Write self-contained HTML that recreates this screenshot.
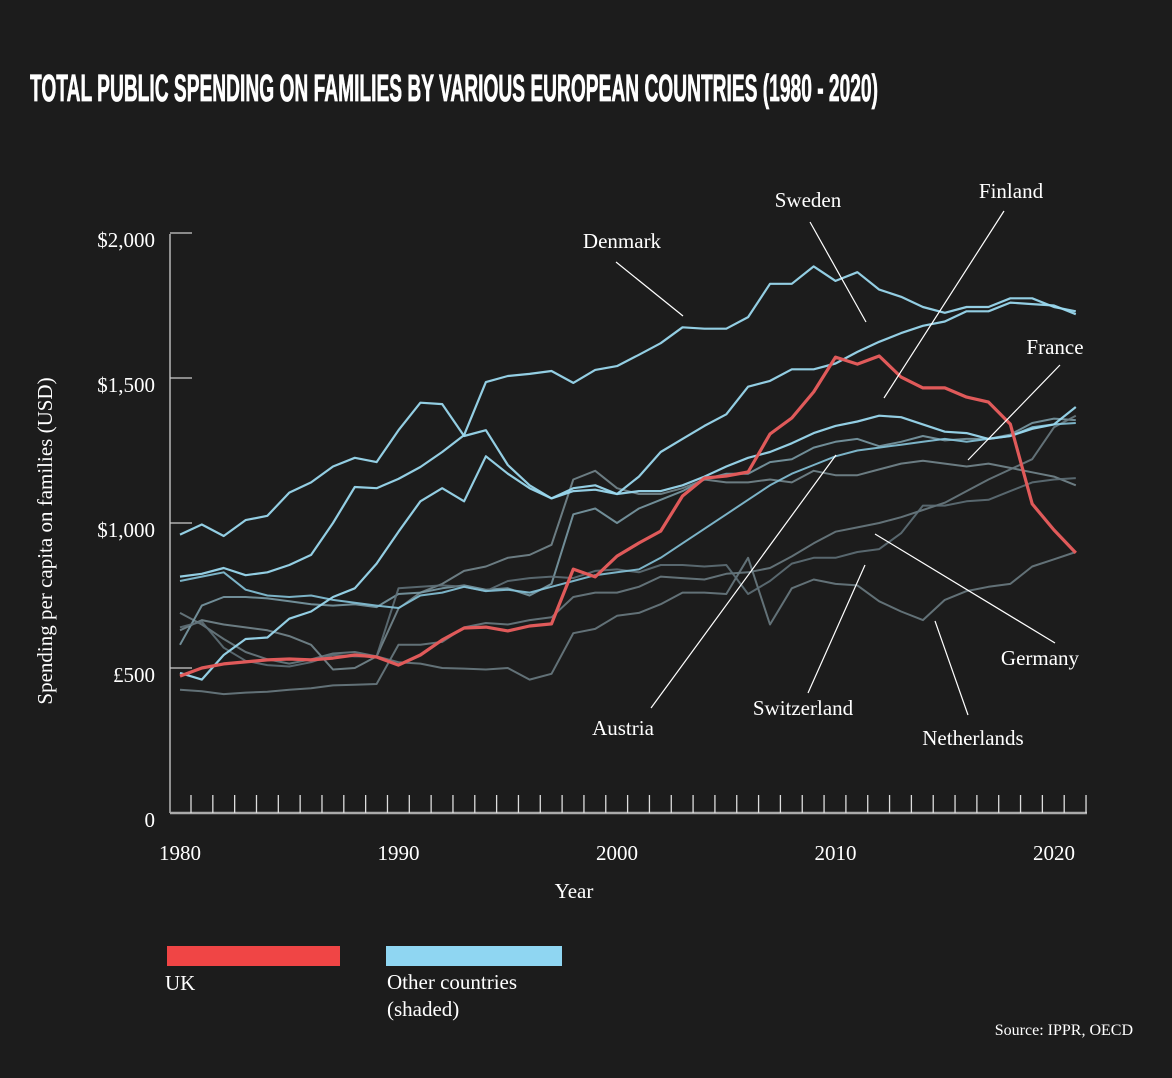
<!DOCTYPE html>
<html><head><meta charset="utf-8">
<style>
html,body{margin:0;padding:0;background:#1c1c1c;}
svg{display:block;}
.lbl{font-family:"Liberation Serif",serif;fill:#fff;font-size:21px;}
.ann{font-family:"Liberation Serif",serif;fill:#fff;font-size:21px;}
</style></head>
<body>
<svg id="chart" width="1172" height="1078" viewBox="0 0 1172 1078" xmlns="http://www.w3.org/2000/svg">
<rect width="1172" height="1078" fill="#1c1c1c"/>
<text x="30" y="101" fill="#fff" stroke="#fff" stroke-width="0.8" font-family="'Liberation Sans Narrow','Liberation Sans',sans-serif" font-weight="bold" font-size="38" textLength="848" lengthAdjust="spacingAndGlyphs">TOTAL PUBLIC SPENDING ON FAMILIES BY VARIOUS EUROPEAN COUNTRIES (1980 - 2020)</text>
<g id="axes"></g>
<g id="series"></g>
<g id="annotations" stroke="#fff" stroke-width="1.2">
<line x1="616" y1="262" x2="683" y2="316"/>
<line x1="810" y1="222" x2="866" y2="322"/>
<line x1="1004" y1="211" x2="884" y2="398"/>
<line x1="1060" y1="365" x2="968" y2="460"/>
<line x1="1055" y1="643" x2="875" y2="534"/>
<line x1="968" y1="715" x2="935" y2="621"/>
<line x1="808" y1="693" x2="865" y2="565"/>
<line x1="651" y1="708" x2="836" y2="455"/>
</g>
<g>
<text class="ann" x="622" y="248" text-anchor="middle">Denmark</text>
<text class="ann" x="808" y="207" text-anchor="middle">Sweden</text>
<text class="ann" x="1011" y="198" text-anchor="middle">Finland</text>
<text class="ann" x="1055" y="354" text-anchor="middle">France</text>
<text class="ann" x="1040" y="665" text-anchor="middle">Germany</text>
<text class="ann" x="973" y="745" text-anchor="middle">Netherlands</text>
<text class="ann" x="803" y="715" text-anchor="middle">Switzerland</text>
<text class="ann" x="623" y="735" text-anchor="middle">Austria</text>
</g>
<text class="lbl" x="574" y="898" text-anchor="middle">Year</text>
<text class="lbl" transform="translate(52,541) rotate(-90)" text-anchor="middle" font-size="19">Spending per capita on families (USD)</text>
<rect x="167" y="946" width="173" height="20" fill="#f04545"/>
<rect x="386" y="946" width="176" height="20" fill="#8fd6f2"/>
<text class="lbl" x="165" y="990">UK</text>
<text class="lbl" x="387" y="989">Other countries</text>
<text class="lbl" x="387" y="1016">(shaded)</text>
<text x="1133" y="1035" text-anchor="end" fill="#fff" font-family="'Liberation Serif',serif" font-size="16">Source: IPPR, OECD</text>
</svg>
<script>
const years = [];
for (let y = 1980; y <= 2021; y++) years.push(y);
const yTicks = [0, 500, 1000, 1500, 2000];
const yTickLabels = ["0", "£500", "$1,000", "$1,500", "$2,000"];
const xLabels = [1980, 1990, 2000, 2010, 2020];
const uk = [472,500,514,521,528,531,528,534,545,538,510,545,597,638,641,628,645,652,841,814,886,931,972,1093,1155,1162,1176,1307,1362,1452,1572,1548,1576,1503,1466,1466,1434,1417,1341,1066,976,897];
const blue1 = [960,995,955,1010,1025,1105,1140,1195,1225,1210,1320,1415,1410,1300,1320,1200,1130,1085,1110,1115,1100,1110,1110,1130,1160,1195,1225,1245,1275,1310,1335,1350,1370,1365,1340,1315,1310,1290,1300,1325,1340,1400];
const blue2 = [815,825,845,820,830,855,890,1000,1124,1120,1152,1193,1245,1303,1486,1507,1514,1524,1483,1528,1541,1580,1620,1675,1670,1670,1710,1825,1825,1885,1835,1865,1805,1780,1745,1725,1745,1745,1775,1775,1745,1730];
const blue3 = [800,815,830,770,750,745,750,735,725,715,707,750,760,780,765,770,760,780,800,820,830,840,880,930,980,1030,1080,1130,1170,1200,1230,1250,1260,1270,1280,1290,1280,1290,1300,1330,1340,1345];
const blue4 = [483,460,545,600,605,670,695,745,775,860,970,1075,1120,1075,1230,1170,1120,1085,1120,1130,1100,1160,1245,1290,1335,1375,1470,1490,1530,1530,1550,1590,1625,1655,1680,1695,1730,1730,1760,1755,1750,1720];
const gray1 = [690,650,600,555,530,515,530,550,555,540,520,515,500,498,495,500,460,480,620,635,680,690,720,760,760,755,880,650,775,805,790,785,730,695,665,735,765,780,790,850,875,900];
const gray2 = [630,665,650,640,630,610,580,495,500,540,705,760,790,835,850,880,890,925,1150,1180,1120,1100,1100,1120,1150,1140,1140,1150,1140,1180,1165,1165,1185,1205,1215,1205,1195,1205,1190,1175,1160,1130];
const gray3 = [580,715,745,745,740,730,720,715,720,710,755,760,775,785,770,775,750,790,1030,1050,1000,1050,1080,1110,1150,1170,1170,1210,1220,1260,1280,1290,1265,1280,1300,1285,1290,1290,1305,1345,1360,1355];
const gray4 = [425,420,410,415,418,425,430,440,442,445,580,580,590,640,655,650,665,675,745,760,760,780,815,810,805,825,830,845,885,930,970,985,1000,1020,1045,1070,1110,1150,1185,1220,1330,1370];
const gray5 = [640,660,570,525,510,505,520,545,540,540,775,780,785,780,765,800,810,815,810,835,840,830,855,855,850,855,755,800,860,880,880,900,910,965,1060,1060,1075,1080,1110,1140,1150,1155];

const NS = "http://www.w3.org/2000/svg";
function xScale(yr){ return 180 + (yr - 1980) * 21.85; }
function yScale(v){ return 813 - v * 0.29; }

const axes = document.getElementById('axes');
function mk(tag, attrs, parent){
  const e = document.createElementNS(NS, tag);
  for (const k in attrs) e.setAttribute(k, attrs[k]);
  parent.appendChild(e);
  return e;
}
const yAxis = mk('line', {x1:170, y1:234, x2:170, y2:813, stroke:'#ddd', 'stroke-width':1.2}, axes);


const xAxis = mk('line', {x1:170, y1:813, x2:1087, y2:813, stroke:'#aaa', 'stroke-width':2.5}, axes);


for (let i = 0; i < 42; i++) {
  const tx = 191 + i * 21.83;
  const t = mk('line', {x1:tx, y1:795, x2:tx, y2:813, stroke:'#ddd', 'stroke-width':1.3}, axes);
  
  
}
yTicks.forEach((v, i) => {
  const yy = yScale(v);
  if (v > 0) {
    const t = mk('line', {x1:170, y1:yy, x2:192, y2:yy, stroke:'#ccc', 'stroke-width':1.3}, axes);
    
    
  }
  const lb = mk('text', {x:155, y:yy + 14, 'text-anchor':'end', 'class':'lbl'}, axes);
  lb.textContent = yTickLabels[i];
  
  
});
xLabels.forEach(yr => {
  const lb = mk('text', {x:xScale(yr), y:860, 'text-anchor':'middle', 'class':'lbl'}, axes);
  lb.textContent = String(yr);
  
  
});

const seriesG = document.getElementById('series');
function drawLine(vals, color, width, opacity, name){
  const d = vals.map((v, i) => (i ? 'L' : 'M') + xScale(years[i]).toFixed(1) + ' ' + yScale(v).toFixed(1)).join(' ');
  const p = mk('path', {d:d, fill:'none', stroke:color, 'stroke-width':width, 'stroke-opacity':opacity, 'stroke-linejoin':'round'}, seriesG);
  
  
}
drawLine(gray1, '#6a7b82', 2, 0.9, 'line-gray-1');
drawLine(gray2, '#74878e', 2, 0.9, 'line-gray-2');
drawLine(gray3, '#7a9aa5', 2, 0.9, 'line-gray-3');
drawLine(gray4, '#6a7b82', 2, 0.9, 'line-gray-4');
drawLine(gray5, '#5f7078', 2, 0.9, 'line-gray-5');
drawLine(blue3, '#86c4da', 2, 0.9, 'line-blue-3');
drawLine(blue1, '#9ad8ee', 2.2, 0.95, 'line-blue-1');
drawLine(blue4, '#9ad8ee', 2.2, 0.95, 'line-blue-4');
drawLine(blue2, '#9ad8ee', 2.2, 0.95, 'line-denmark');
drawLine(uk, '#e05a5a', 3.2, 1, 'line-uk');
</script>
</body></html>
